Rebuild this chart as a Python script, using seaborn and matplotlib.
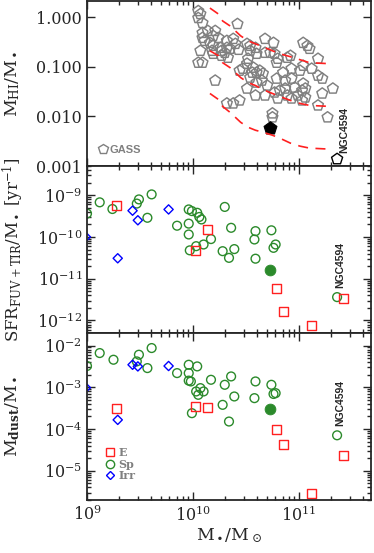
import matplotlib.pyplot as plt
from matplotlib.lines import Line2D
from matplotlib.ticker import FixedLocator, FormatStrFormatter, LogLocator, LogFormatterMathtext, NullFormatter, NullLocator
import numpy as np
import pandas as pd
import seaborn as sns

sns.set_style('ticks')
plt.rcParams['font.family'] = ['DejaVu Serif']
plt.rcParams['mathtext.fontset'] = 'dejavuserif'

# ---- top panel: GASS sample, log10 M*/Msun and log10 MHI/M*
gass_logm = [10.05, 10.07, 10.05, 10.09, 10.42, 10.09, 10.14, 10.21, 10.19, 10.24,
             10.09, 10.16, 10.38, 10.32, 10.07, 10.05, 10.09, 10.18, 10.27, 10.30,
             10.33, 10.32, 10.40, 10.43, 10.51, 10.54, 10.59, 10.60, 10.54, 10.19,
             10.27, 10.68, 10.76, 10.73, 10.77, 10.80, 10.79, 10.89, 10.92, 11.04,
             11.08, 11.10, 11.18, 10.21, 10.51, 10.47, 10.56, 10.54, 10.63, 10.66,
             10.65, 10.60, 10.51, 10.59, 10.68, 10.77, 10.80, 10.79, 10.87, 10.93,
             11.01, 10.93, 10.87, 10.96, 11.04, 11.03, 11.06, 11.12, 11.18, 11.22,
             10.93, 11.03, 11.06, 10.99, 11.22, 11.32, 11.18, 11.27, 10.38, 10.44,
             10.32, 10.75, 10.75, 10.57, 10.60, 10.82, 10.89, 10.85, 10.68, 10.52,
             10.35, 10.26, 10.19, 10.11, 11.04, 10.70, 10.44]
gass_logf = [0.12, 0.06, -0.02, -0.12, -0.14, -0.32, -0.28, -0.28, -0.38, -0.42,
             -0.42, -0.52, -0.44, -0.48, -0.68, -0.92, -0.92, -0.68, -0.68, -0.72,
             -0.82, -0.62, -0.54, -0.66, -0.54, -0.58, -0.62, -0.74, -0.68, -0.74,
             -0.78, -0.44, -0.52, -0.72, -0.74, -0.84, -0.92, -0.82, -0.78, -0.52,
             -0.58, -0.64, -0.84, -1.28, -0.94, -1.04, -1.12, -1.22, -1.08, -1.14,
             -1.28, -1.32, -1.44, -1.58, -1.58, -1.52, -1.64, -1.24, -1.28, -1.04,
             -1.08, -1.24, -1.44, -1.42, -1.34, -1.48, -1.44, -1.04, -1.18, -1.24,
             -1.64, -1.68, -1.62, -1.58, -1.54, -1.44, -1.78, -2.02, -1.74, -1.68,
             -1.74, -1.94, -2.02, -1.02, -1.12, -1.48, -1.58, -1.12, -0.72, -0.84,
             -0.64, -0.62, -0.58, -0.48, -0.98, -1.38, -1.08]

# dashed reference curves (log M*, log MHI/M*)
curve_logm = [10.16, 10.24, 10.28, 10.35, 10.41, 10.45, 10.52, 10.59, 10.66, 10.75,
              10.82, 10.92, 11.01, 11.10, 11.29]
curve_a = [0.18, 0.06, -0.08, -0.18, -0.30, -0.38, -0.48, -0.54, -0.60, -0.68,
           -0.74, -0.80, -0.86, -0.92, -0.94]
curve_b = [-0.68, -0.78, -0.92, -1.02, -1.14, -1.22, -1.32, -1.38, -1.46, -1.54,
           -1.60, -1.68, -1.74, -1.78, -1.80]
curve_c = [-1.54, -1.66, -1.80, -1.92, -2.04, -2.12, -2.22, -2.28, -2.32, -2.38,
           -2.44, -2.54, -2.60, -2.64, -2.66]

# ---- middle / bottom panels, log M* for each morphological type
sp_logm_sfr = [9.00, 9.12, 9.24, 9.47, 9.49, 9.61, 9.57, 9.85, 9.96, 9.99, 10.04,
               10.06, 10.08, 9.96, 9.96, 9.97, 10.03, 10.10, 10.17, 10.30, 10.36,
               10.28, 10.34, 10.39, 10.59, 10.58, 10.59, 10.74, 10.76, 10.78, 11.36]
sp_logssfr = [-9.44, -9.17, -9.33, -9.20, -9.10, -8.98, -9.54, -9.73, -9.34, -9.38,
              -9.42, -9.52, -9.58, -9.68, -9.94, -10.32, -10.22, -10.18, -10.05,
              -9.28, -9.78, -10.34, -10.50, -10.29, -9.86, -10.06, -10.52, -9.84,
              -10.26, -10.18, -11.44]
e_logm = [9.28, 10.14, 10.02, 10.79, 10.85, 11.12, 11.42]
e_logssfr = [-9.24, -9.82, -10.33, -11.24, -11.78, -12.12, -11.48]
irr_logm = [9.43, 9.48, 9.77, 9.29, 8.99]
irr_logssfr = [-9.37, -9.60, -9.34, -10.51, -10.00]

sp_logm_dust = [9.00, 9.12, 9.25, 9.49, 9.47, 9.61, 9.57, 9.85, 9.96, 9.96, 9.96,
                9.98, 10.04, 10.03, 10.05, 10.07, 10.10, 10.17, 9.99, 10.28, 10.30,
                10.36, 10.39, 10.34, 10.59, 10.58, 10.74, 10.76, 10.78, 11.36]
sp_logdust = [-2.49, -2.18, -2.34, -2.22, -2.38, -2.06, -2.54, -2.66, -2.46, -2.66,
              -2.84, -2.86, -2.50, -3.10, -3.18, -3.02, -3.10, -2.82, -3.62, -3.42,
              -2.94, -2.74, -3.22, -3.82, -2.86, -3.26, -2.94, -3.16, -3.14, -4.15]
e_logdust = [-3.50, -3.48, -3.45, -4.02, -4.36, -5.54, -4.63]
e_logm_dust = [9.28, 10.14, 10.02, 10.79, 10.85, 11.12, 11.42]
irr_logdust = [-2.46, -2.50, -2.49, -3.78, -3.01]

# the highlighted galaxy (filled symbol) and NGC4594
hl_logm = 10.73
hl_logf, hl_logssfr, hl_logdust = -2.24, -10.80, -3.52
ngc_logm, ngc_logf = 11.36, -2.86

GREY = '#808080'
GREEN = '#2b8a2b'
RED = '#ff2020'
BLUE = '#0000ff'

fig = plt.figure(figsize=(3.74, 5.53), dpi=100)
left, width = 0.2326, 0.7594
ax1 = fig.add_axes([left, 0.6998, width, 0.2982])
ax2 = fig.add_axes([left, 0.3978, width, 0.3020])
ax3 = fig.add_axes([left, 0.0958, width, 0.3020])

for ax in (ax1, ax2, ax3):
    ax.set_xscale('log')
    ax.set_yscale('log')

# top panel
for cv in (curve_a, curve_b, curve_c):
    sns.lineplot(x=10 ** np.array(curve_logm), y=10 ** np.array(cv), sort=False,
                 estimator=None, color=RED, lw=1.2, linestyle=(0, (6, 4.5)), ax=ax1)
sns.scatterplot(x=10 ** np.array(gass_logm), y=10 ** np.array(gass_logf), marker='p',
                s=66, facecolor='none', edgecolor=GREY, linewidth=1.05, ax=ax1)
sns.scatterplot(x=[10 ** hl_logm], y=[10 ** hl_logf], marker='p', s=95,
                color='black', edgecolor='black', ax=ax1)
sns.scatterplot(x=[10 ** ngc_logm], y=[10 ** ngc_logf], marker='p', s=70,
                facecolor='none', edgecolor='black', linewidth=1.0, ax=ax1)

# middle panel
sns.scatterplot(x=10 ** np.array(sp_logm_sfr), y=10 ** np.array(sp_logssfr), marker='o',
                s=40, facecolor='none', edgecolor=GREEN, linewidth=1.0, ax=ax2)
sns.scatterplot(x=10 ** np.array(e_logm), y=10 ** np.array(e_logssfr), marker='s',
                s=42, facecolor='none', edgecolor=RED, linewidth=1.0, ax=ax2)
sns.scatterplot(x=10 ** np.array(irr_logm), y=10 ** np.array(irr_logssfr), marker='D',
                s=22, facecolor='none', edgecolor=BLUE, linewidth=1.0, ax=ax2)
sns.scatterplot(x=[10 ** hl_logm], y=[10 ** hl_logssfr], marker='o', s=60,
                color=GREEN, edgecolor=GREEN, ax=ax2)

# bottom panel
sns.scatterplot(x=10 ** np.array(sp_logm_dust), y=10 ** np.array(sp_logdust), marker='o',
                s=40, facecolor='none', edgecolor=GREEN, linewidth=1.0, ax=ax3)
sns.scatterplot(x=10 ** np.array(e_logm_dust), y=10 ** np.array(e_logdust), marker='s',
                s=42, facecolor='none', edgecolor=RED, linewidth=1.0, ax=ax3)
sns.scatterplot(x=10 ** np.array(irr_logm), y=10 ** np.array(irr_logdust), marker='D',
                s=22, facecolor='none', edgecolor=BLUE, linewidth=1.0, ax=ax3)
sns.scatterplot(x=[10 ** hl_logm], y=[10 ** hl_logdust], marker='o', s=60,
                color=GREEN, edgecolor=GREEN, ax=ax3)

# NGC4594 labels
ngc_kw = dict(rotation=90, ha='center', va='bottom', fontsize=7.5, fontweight='bold',
              family='Liberation Sans')
ax1.text(10 ** 11.43, 10 ** -2.74, 'NGC4594', **ngc_kw)
ax2.text(10 ** 11.39, 10 ** -11.22, 'NGC4594', **ngc_kw)
ax3.text(10 ** 11.39, 10 ** -3.92, 'NGC4594', **ngc_kw)

# axes limits / ticks
xmin, xmax = 1e9, 10 ** 11.68
for ax in (ax1, ax2, ax3):
    ax.set_xlim(xmin, xmax)
    ax.tick_params(which='both', direction='in', top=True, right=True, width=1.0,
                   labelsize=11.5)
    ax.tick_params(which='major', length=6)
    ax.tick_params(which='minor', length=3)
    ax.xaxis.set_major_locator(LogLocator(base=10))
    ax.xaxis.set_minor_locator(LogLocator(base=10, subs=np.arange(2, 10)))
    for sp in ax.spines.values():
        sp.set_linewidth(1.3)
    ax.set_xlabel('')
    ax.set_ylabel('')

ax1.set_ylim(1e-3, 10 ** 0.32)
ax1.yaxis.set_major_locator(FixedLocator([1e-3, 1e-2, 1e-1, 1.0]))
ax1.yaxis.set_major_formatter(FormatStrFormatter('%.3f'))
ax1.yaxis.set_minor_locator(NullLocator())

ax2.set_ylim(10 ** -12.3, 10 ** -8.3)
ax3.set_ylim(10 ** -5.7, 10 ** -1.7)
for ax in (ax2, ax3):
    ax.yaxis.set_major_locator(LogLocator(base=10))
    ax.yaxis.set_major_formatter(LogFormatterMathtext())
    ax.yaxis.set_minor_locator(LogLocator(base=10, subs=np.arange(2, 10)))
    ax.yaxis.set_minor_formatter(NullFormatter())

for ax in (ax1, ax2):
    ax.xaxis.set_major_formatter(NullFormatter())
    ax.xaxis.set_minor_formatter(NullFormatter())
ax3.xaxis.set_major_formatter(LogFormatterMathtext())
ax3.xaxis.set_minor_formatter(NullFormatter())
ax3.tick_params(axis='x', pad=4)

ax1.set_ylabel(r'M$_{\rm HI}$/M$_\bullet$', fontsize=12.5)
ax2.set_ylabel(r'SFR$_{\rm FUV+TIR}$/M$_\bullet$ [yr$^{-1}$]', fontsize=12)
ax3.set_ylabel(r'M$_{\mathbf{dust}}$/M$_\bullet$', fontsize=12.5)
ax3.set_xlabel(r'M$_\bullet$/M$_\odot$', fontsize=12.5, labelpad=1)
ax1.yaxis.set_label_coords(-0.228, 0.5)
ax2.yaxis.set_label_coords(-0.215, 0.5)
ax3.yaxis.set_label_coords(-0.228, 0.5)

# legends
gass_h = [Line2D([], [], ls='none', marker='p', ms=7, mfc='none', mec=GREY, mew=1.0)]
ax1.legend(gass_h, ['GASS'], loc='lower left', frameon=False, handlelength=0.8,
           handletextpad=0.2, borderaxespad=0.6, labelcolor=GREY,
           prop=dict(family='Liberation Sans', weight='bold', size=8))

type_h = [Line2D([], [], ls='none', marker='s', ms=6, mfc='none', mec=RED, mew=1.0),
          Line2D([], [], ls='none', marker='o', ms=6, mfc='none', mec=GREEN, mew=1.0),
          Line2D([], [], ls='none', marker='D', ms=4.5, mfc='none', mec=BLUE, mew=1.0)]
ax3.legend(type_h, ['E', 'Sp', 'Irr'], loc='lower left', frameon=False, handlelength=0.8,
           handletextpad=0.3, labelspacing=0.05, borderaxespad=1.3, labelcolor=GREY,
           prop=dict(family='DejaVu Serif', weight='bold', size=8))

fig.savefig('out.png', dpi=100)
